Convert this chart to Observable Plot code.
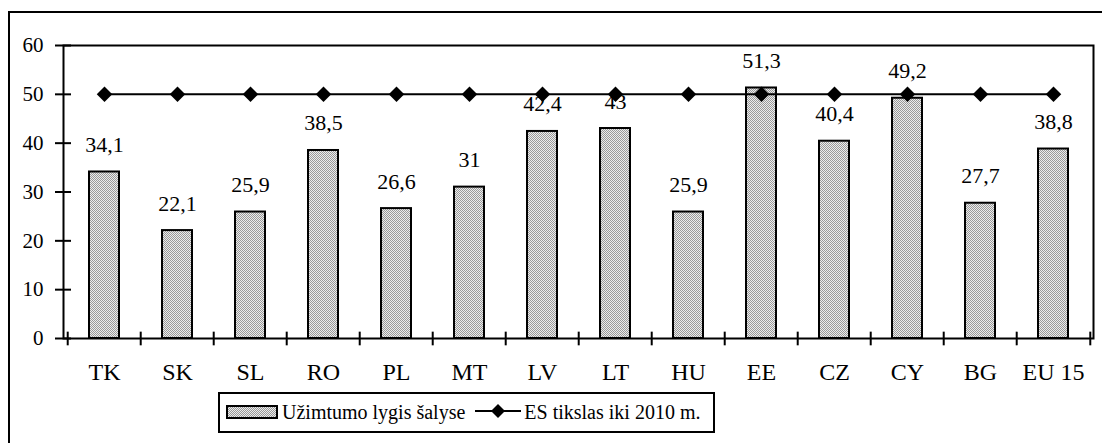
<!DOCTYPE html>
<html>
<head>
<meta charset="utf-8">
<script src="https://cdn.jsdelivr.net/npm/d3@7"></script>
<script src="https://cdn.jsdelivr.net/npm/@observablehq/plot@0.6"></script>
</head>
<body style="margin:0;padding:0;background:#fff;overflow:hidden;width:1102px;height:443px;position:relative;font-family:'Liberation Serif','Times New Roman',serif">
<div id="frame" style="position:absolute;left:8px;top:11px;width:1100px;height:440px;border:2px solid #000;box-sizing:border-box"></div>
<div id="chart" style="position:absolute;left:0;top:0"></div>
<div id="legend" style="position:absolute;left:218px;top:392px;width:497px;height:41px;border:2px solid #000;box-sizing:border-box;background:#fff;display:flex;align-items:center;font-size:20px;color:#000;white-space:nowrap;font-family:'Liberation Serif','Times New Roman',serif"></div>
<script>
const countries = ["TK", "SK", "SL", "RO", "PL", "MT", "LV", "LT", "HU", "EE", "CZ", "CY", "BG", "EU 15"];
const employmentRate = [34.1, 22.1, 25.9, 38.5, 26.6, 31, 42.4, 43, 25.9, 51.3, 40.4, 49.2, 27.7, 38.8];
const target2010 = [50, 50, 50, 50, 50, 50, 50, 50, 50, 50, 50, 50, 50, 50];
const yTicks = [0, 10, 20, 30, 40, 50, 60];
const seriesNames = ["Užimtumo lygis šalyse", "ES tikslas iki 2010 m."];

const data = countries.map((c, i) => ({country: c, value: employmentRate[i], target: target2010[i]}));
const fmt = v => String(v).replace(".", ",");

const W = 1102, H = 443;
const mL = 63, mR = 9, mT = 45, mB = 105;
const step = (W - mL - mR) / countries.length;
const serif = "'Liberation Serif', 'Times New Roman', serif";

const plot = Plot.plot({
  width: W, height: H,
  marginLeft: mL, marginRight: mR, marginTop: mT, marginBottom: mB,
  style: `font-family: ${serif}; font-size: 20px; color: #000; background: transparent;`,
  x: {domain: countries, paddingInner: 0.59, paddingOuter: 0.295, label: null},
  y: {domain: [0, 60], label: null},
  marks: [
    Plot.barY(data, {x: "country", y: "value", fill: "url(#dotpat)", stroke: "#000", strokeWidth: 2}),
    Plot.frame({stroke: "#000", strokeWidth: 2}),
    Plot.axisY({ticks: yTicks, tickSize: 16, dx: 8, tickPadding: 12, strokeWidth: 2, fontSize: 21, fontFamily: serif, label: null}),
    Plot.axisX({tickSize: 0, tickPadding: 24, fontSize: 24, fontFamily: serif, label: null}),
    Plot.ruleX(countries, {x: d => d, dx: -step / 2, y1: 1.3, y2: -1.5, stroke: "#000", strokeWidth: 2}),
    Plot.ruleX(countries.slice(-1), {x: d => d, dx: step / 2, y1: 1.3, y2: -1.5, stroke: "#000", strokeWidth: 2}),
    Plot.line(data, {x: "country", y: "target", stroke: "#000", strokeWidth: 2}),
    Plot.dot(data, {x: "country", y: "target", symbol: "diamond2", r: 7, fill: "#000", stroke: "none"}),
    Plot.text(data, {x: "country", y: "value", text: d => fmt(d.value), dy: -20, lineAnchor: "bottom", fontSize: 22, fontFamily: serif, fill: "#000"})
  ]
});

// dotted gray fill pattern
const ns = "http://www.w3.org/2000/svg";
function addPattern(svg, id) {
  const defs = document.createElementNS(ns, "defs");
  const pat = document.createElementNS(ns, "pattern");
  pat.setAttribute("id", id);
  pat.setAttribute("patternUnits", "userSpaceOnUse");
  pat.setAttribute("width", "2");
  pat.setAttribute("height", "2");
  const bg = document.createElementNS(ns, "rect");
  bg.setAttribute("width", "2"); bg.setAttribute("height", "2"); bg.setAttribute("fill", "#ececec");
  const d1 = document.createElementNS(ns, "rect");
  d1.setAttribute("width", "1"); d1.setAttribute("height", "1"); d1.setAttribute("fill", "#999");
  const d2 = document.createElementNS(ns, "rect");
  d2.setAttribute("x", "1"); d2.setAttribute("y", "1"); d2.setAttribute("width", "1"); d2.setAttribute("height", "1"); d2.setAttribute("fill", "#999");
  pat.append(bg, d1, d2);
  defs.append(pat);
  svg.insertBefore(defs, svg.firstChild);
}
addPattern(plot, "dotpat");
document.getElementById("chart").append(plot);

// legend
const legend = document.getElementById("legend");
legend.innerHTML =
  `<span style="margin-left:6px"><svg width="52" height="14"><defs><pattern id="dotpat2" patternUnits="userSpaceOnUse" width="2" height="2"><rect width="2" height="2" fill="#ececec"/><rect width="1" height="1" fill="#999"/><rect x="1" y="1" width="1" height="1" fill="#999"/></pattern></defs><rect x="1" y="1" width="50" height="12" fill="url(#dotpat2)" stroke="#000" stroke-width="2"/></svg></span>` +
  `<span style="margin-left:4px">${seriesNames[0]}</span>` +
  `<span style="margin-left:10px"><svg width="46" height="16"><line x1="0" y1="8" x2="46" y2="8" stroke="#000" stroke-width="2"/><path d="M23 1 L30 8 L23 15 L16 8 Z" fill="#000"/></svg></span>` +
  `<span style="margin-left:3px">${seriesNames[1]}</span>`;
</script>
</body>
</html>
